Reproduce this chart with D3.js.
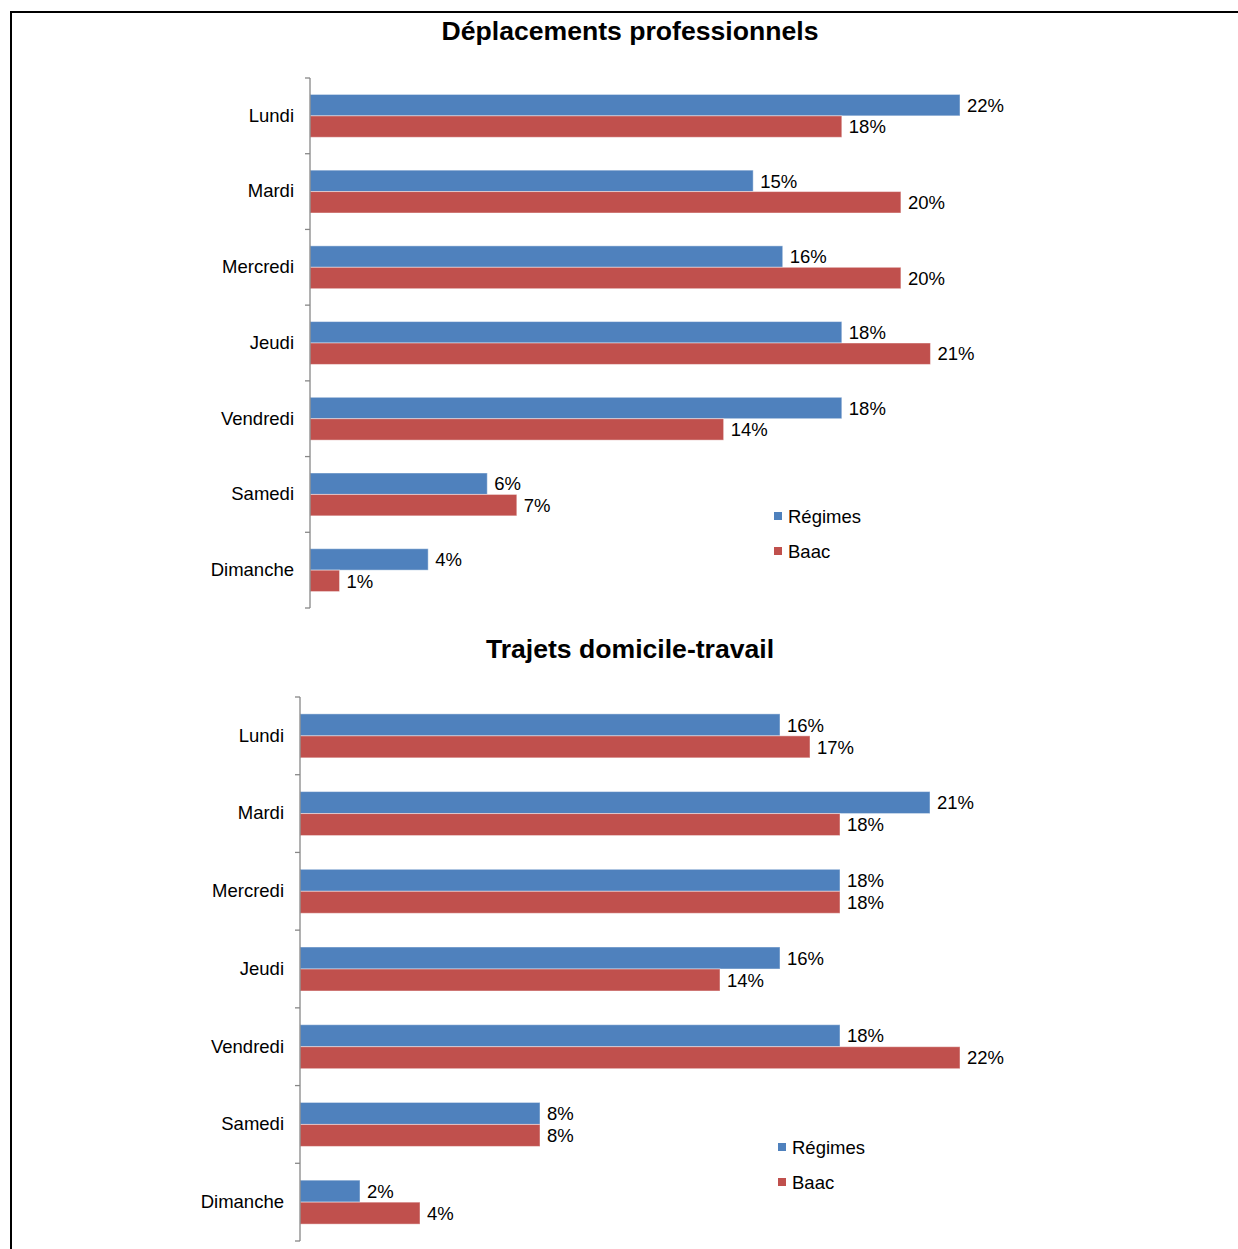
<!DOCTYPE html>
<html>
<head>
<meta charset="utf-8">
<script src="https://cdn.jsdelivr.net/npm/d3@7"></script>
<style>
  html, body { margin: 0; padding: 0; background: #fff; }
  svg { display: block; font-family: "Liberation Sans", Arial, sans-serif; }
</style>
</head>
<body>
<svg id="chart" width="1238" height="1249"></svg>
<script>
// Share of trips by day of the week, per source
const days = ["Lundi", "Mardi", "Mercredi", "Jeudi", "Vendredi", "Samedi", "Dimanche"];
const seriesNames = ["Régimes", "Baac"];

const proTitle = "Déplacements professionnels";
const proRegimes = [22, 15, 16, 18, 18, 6, 4];
const proBaac = [18, 20, 20, 21, 14, 7, 1];

const commuteTitle = "Trajets domicile-travail";
const commuteRegimes = [16, 21, 18, 16, 18, 8, 2];
const commuteBaac = [17, 18, 18, 14, 22, 8, 4];

const colors = { "Régimes": "#4F81BD", "Baac": "#C0504D" };
const labelSize = 18.5;

const svg = d3.select("#chart");

// outer frame
svg.append("rect")
  .attr("x", 11).attr("y", 12)
  .attr("width", 1400).attr("height", 1400)
  .attr("fill", "none").attr("stroke", "#000").attr("stroke-width", 2);

function drawPanel(opts) {
  const g = svg.append("g");

  g.append("text")
    .attr("x", 630).attr("y", opts.titleY)
    .attr("text-anchor", "middle")
    .attr("font-size", 26.6).attr("font-weight", "bold")
    .attr("fill", "#000")
    .text(opts.title);

  const y = d3.scaleBand()
    .domain(days)
    .range([opts.top, opts.bottom])
    .paddingInner(0.434)
    .paddingOuter(0.217);

  const ySub = d3.scaleBand()
    .domain(seriesNames)
    .range([0, y.bandwidth()]);

  const x = d3.scaleLinear()
    .domain([0, opts.xMax])
    .range([opts.left, opts.right]);

  const rows = days.map((d, i) => ({
    day: d,
    values: [
      { key: "Régimes", value: opts.regimes[i] },
      { key: "Baac", value: opts.baac[i] }
    ]
  }));

  const groups = g.selectAll("g.day")
    .data(rows)
    .join("g")
    .attr("class", "day")
    .attr("transform", d => `translate(0,${y(d.day)})`);

  groups.selectAll("rect")
    .data(d => d.values)
    .join("rect")
    .attr("x", x(0))
    .attr("y", d => ySub(d.key))
    .attr("width", d => x(d.value) - x(0))
    .attr("height", ySub.bandwidth())
    .attr("fill", d => colors[d.key])
    .attr("stroke", "rgba(255,255,255,0.45)")
    .attr("stroke-width", 1);

  groups.selectAll("text.val")
    .data(d => d.values)
    .join("text")
    .attr("class", "val")
    .attr("x", d => x(d.value) + 7)
    .attr("y", d => ySub(d.key) + ySub.bandwidth() / 2)
    .attr("dy", "0.36em")
    .attr("font-size", labelSize)
    .attr("fill", "#000")
    .text(d => d.value + "%");

  // category axis
  const axis = d3.axisLeft(y).tickSize(0).tickPadding(16);
  const ax = g.append("g")
    .attr("transform", `translate(${x(0)},0)`)
    .call(axis);
  ax.select(".domain").remove();
  ax.selectAll("text")
    .attr("font-size", labelSize)
    .attr("font-family", "'Liberation Sans', Arial, sans-serif")
    .attr("fill", "#000");

  g.append("line")
    .attr("x1", x(0)).attr("x2", x(0))
    .attr("y1", opts.top).attr("y2", opts.bottom)
    .attr("stroke", "#878787").attr("stroke-width", 1.3);

  const step = y.step();
  const bounds = d3.range(days.length + 1).map(i => opts.top + i * step);
  g.selectAll("line.tick-mark")
    .data(bounds)
    .join("line")
    .attr("class", "tick-mark")
    .attr("x1", x(0) - 5).attr("x2", x(0))
    .attr("y1", d => d).attr("y2", d => d)
    .attr("stroke", "#878787").attr("stroke-width", 1.3);

  // legend
  const lg = g.append("g")
    .attr("transform", `translate(${opts.legendX},${opts.legendY})`);
  seriesNames.forEach((name, i) => {
    lg.append("rect")
      .attr("x", 0).attr("y", i * 35 - 4)
      .attr("width", 8).attr("height", 8)
      .attr("fill", colors[name]);
    lg.append("text")
      .attr("x", 14).attr("y", i * 35)
      .attr("dy", "0.36em")
      .attr("font-size", labelSize)
      .attr("fill", "#000")
      .text(name);
  });
}

drawPanel({
  title: proTitle, titleY: 40,
  regimes: proRegimes, baac: proBaac,
  top: 78, bottom: 608, left: 310, right: 960, xMax: 22,
  legendX: 774, legendY: 516
});

drawPanel({
  title: commuteTitle, titleY: 658,
  regimes: commuteRegimes, baac: commuteBaac,
  top: 697, bottom: 1241, left: 300, right: 960, xMax: 22,
  legendX: 778, legendY: 1147
});
</script>
</body>
</html>
